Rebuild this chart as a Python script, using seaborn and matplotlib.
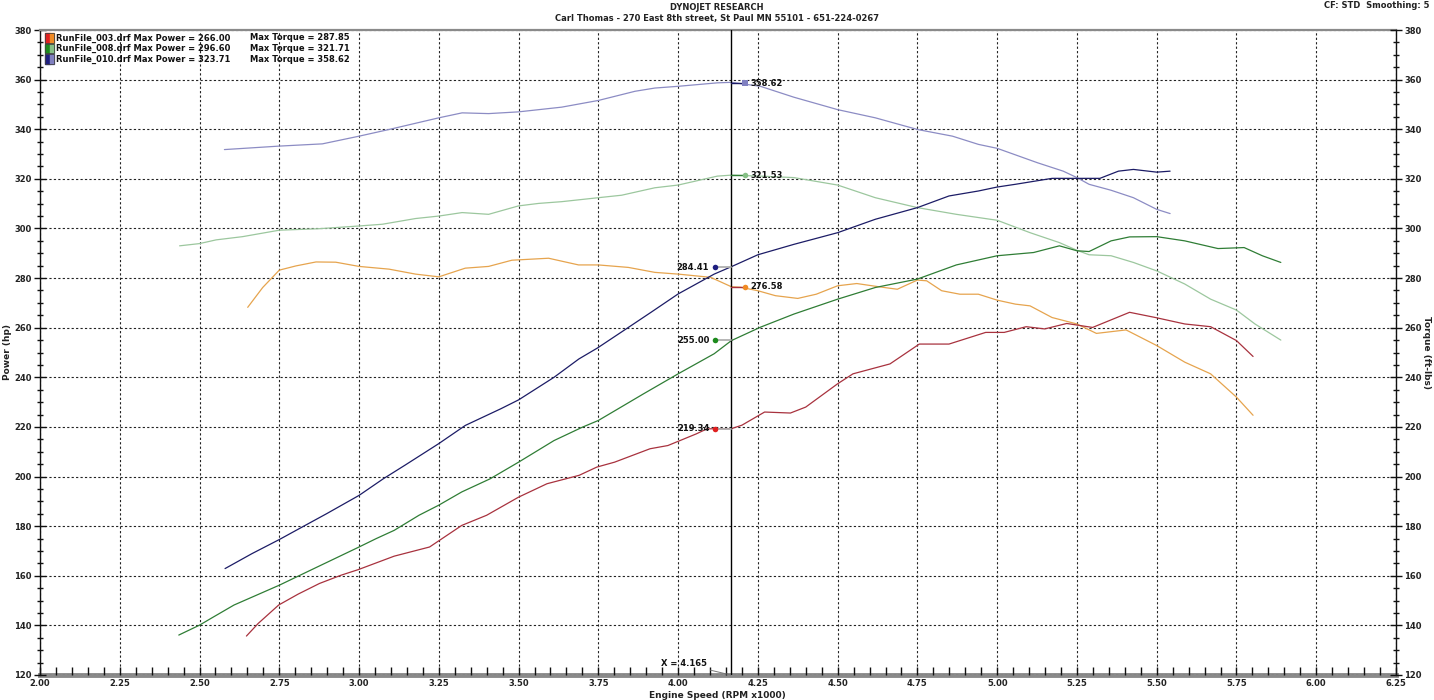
import numpy as np
import matplotlib
matplotlib.use('Agg')
import matplotlib.pyplot as plt
from matplotlib.patches import Rectangle
from matplotlib.ticker import MultipleLocator, FormatStrFormatter
import seaborn as sns

sns.set_theme(style='white')
plt.rcParams['font.family'] = ['DejaVu Sans']
plt.rcParams['font.weight'] = 'bold'

# ---- dados (rpm x1000) ----
run_names = ['RunFile_003.drf', 'RunFile_008.drf', 'RunFile_010.drf']
max_power = [266.00, 296.60, 323.71]
max_torque = [287.85, 321.71, 358.62]

# run 003
rpm_003_hp = [2.647, 2.684, 2.748, 2.809, 2.876, 2.943, 2.998, 3.110, 3.221, 3.322, 3.400,
              3.500, 3.589, 3.690, 3.745, 3.801, 3.912, 3.968, 4.057, 4.090, 4.123, 4.167,
              4.200, 4.271, 4.352, 4.400, 4.500, 4.548, 4.664, 4.756, 4.849, 4.964, 5.022,
              5.091, 5.149, 5.218, 5.299, 5.415, 5.496, 5.588, 5.669, 5.750, 5.802]
hp_003 = [135.7, 140.8, 148.2, 152.6, 156.9, 160.2, 162.5, 167.9, 171.6, 180.3, 184.4,
          191.7, 197.1, 200.5, 203.8, 205.8, 211.2, 212.5, 217.2, 219.2, 219.3, 219.3,
          220.7, 226.0, 225.6, 228.0, 237.4, 241.4, 245.4, 253.4, 253.4, 258.1, 258.1,
          260.4, 259.5, 261.7, 260.1, 266.2, 264.1, 261.5, 260.4, 254.8, 248.4]
rpm_003_tq = [2.651, 2.698, 2.750, 2.802, 2.865, 2.927, 3.000, 3.094, 3.177, 3.250, 3.333,
              3.406, 3.479, 3.594, 3.688, 3.750, 3.844, 3.927, 4.000, 4.102, 4.167, 4.196,
              4.250, 4.305, 4.375, 4.433, 4.500, 4.560, 4.629, 4.687, 4.750, 4.779, 4.826,
              4.883, 4.941, 5.000, 5.057, 5.103, 5.172, 5.250, 5.311, 5.404, 5.500, 5.588,
              5.669, 5.750, 5.802]
tq_003 = [268.2, 276.2, 283.2, 284.9, 286.5, 286.4, 284.7, 283.6, 281.6, 280.5, 284.0,
          284.7, 287.2, 288.0, 285.3, 285.3, 284.3, 282.3, 281.6, 280.3, 276.5, 276.3,
          274.9, 272.9, 271.8, 273.5, 276.9, 277.8, 276.5, 275.5, 279.2, 278.9, 274.9,
          273.5, 273.5, 271.1, 269.5, 268.8, 264.1, 261.5, 257.7, 259.1, 252.8, 246.1,
          241.4, 232.0, 224.7]

# run 008
rpm_008_hp = [2.435, 2.500, 2.541, 2.608, 2.750, 2.831, 3.000, 3.054, 3.110, 3.188, 3.249,
              3.322, 3.411, 3.500, 3.611, 3.700, 3.750, 3.812, 3.891, 4.000, 4.113, 4.167,
              4.258, 4.363, 4.500, 4.618, 4.750, 4.872, 5.000, 5.114, 5.195, 5.250, 5.288,
              5.357, 5.415, 5.500, 5.588, 5.692, 5.774, 5.831, 5.889]
hp_008 = [136.1, 140.1, 143.2, 148.2, 156.2, 161.2, 171.6, 175.0, 178.3, 184.4, 188.4,
          193.8, 199.1, 205.8, 214.5, 219.9, 222.6, 227.3, 233.3, 241.4, 249.5, 254.8,
          260.2, 265.5, 271.5, 276.2, 279.6, 285.3, 289.0, 290.3, 293.0, 291.0, 290.7,
          295.0, 296.6, 296.7, 295.0, 291.9, 292.3, 289.0, 286.3]
rpm_008_tq = [2.4375, 2.500, 2.552, 2.635, 2.750, 2.875, 3.000, 3.073, 3.177, 3.250, 3.323,
              3.406, 3.500, 3.563, 3.635, 3.750, 3.823, 3.927, 4.000, 4.123, 4.167, 4.258,
              4.363, 4.500, 4.618, 4.750, 4.872, 5.000, 5.103, 5.195, 5.250, 5.288, 5.357,
              5.427, 5.500, 5.588, 5.669, 5.750, 5.808, 5.889]
tq_008 = [293.0, 293.9, 295.4, 296.7, 299.3, 299.9, 301.0, 301.7, 304.0, 305.0, 306.4,
          305.7, 309.1, 310.1, 310.8, 312.4, 313.4, 316.4, 317.5, 321.1, 321.5, 321.1,
          320.5, 317.5, 312.4, 308.4, 305.7, 303.3, 298.3, 294.3, 291.2, 289.4, 289.0,
          286.3, 282.9, 277.6, 271.5, 267.1, 261.5, 255.0]

# run 010
rpm_010_hp = [2.580, 2.664, 2.750, 2.831, 2.898, 3.000, 3.076, 3.143, 3.249, 3.333, 3.444,
              3.500, 3.611, 3.689, 3.747, 3.844, 3.915, 4.000, 4.113, 4.167, 4.250, 4.363,
              4.500, 4.618, 4.750, 4.849, 4.941, 5.000, 5.057, 5.172, 5.250, 5.322, 5.380,
              5.427, 5.500, 5.542]
hp_010 = [162.9, 168.9, 174.6, 180.3, 185.0, 192.4, 199.1, 204.5, 213.2, 220.6, 227.3,
          230.9, 240.0, 247.4, 251.8, 260.1, 266.2, 273.6, 281.6, 284.6, 289.4, 293.6,
          298.3, 303.7, 308.4, 313.1, 315.1, 316.7, 317.8, 320.2, 320.2, 320.2, 323.1,
          323.8, 322.7, 323.1]
rpm_010_tq = [2.578, 2.750, 2.885, 3.000, 3.094, 3.250, 3.323, 3.406, 3.500, 3.635, 3.750,
              3.865, 3.927, 4.000, 4.123, 4.167, 4.258, 4.363, 4.500, 4.618, 4.750, 4.860,
              4.941, 5.000, 5.126, 5.207, 5.250, 5.288, 5.357, 5.427, 5.500, 5.542]
tq_010 = [331.8, 333.2, 334.1, 337.2, 339.9, 344.6, 346.6, 346.3, 347.0, 348.9, 351.6,
          355.3, 356.6, 357.3, 358.7, 358.9, 357.3, 352.9, 347.9, 344.6, 339.9, 337.2,
          333.9, 332.3, 326.5, 323.1, 320.5, 317.8, 315.4, 312.4, 307.7, 306.0]

# leitura do cursor
cursor_x = 4.165
cursor_power = [219.34, 255.00, 284.41]
cursor_torque = [276.58, 321.53, 358.62]

# cores (potencia escura, torque clara)
cor_hp = ['#a8323e', '#2f7d35', '#1c1c66']
cor_tq = ['#e6a44e', '#9cc79e', '#8c8cc4']
cor_mk_hp = ['#e02020', '#1c8a1c', '#1e1e80']
cor_mk_tq = ['#f08a24', '#86c086', '#8080c0']

hp_series = [(rpm_003_hp, hp_003), (rpm_008_hp, hp_008), (rpm_010_hp, hp_010)]
tq_series = [(rpm_003_tq, tq_003), (rpm_008_tq, tq_008), (rpm_010_tq, tq_010)]

W, H = 1434, 700
fig = plt.figure(figsize=(W / 100, H / 100), dpi=100)
fig.patch.set_facecolor('white')
ax = fig.add_axes([40 / W, 25 / H, 1356 / W, 645 / H])
ax2 = ax.twinx()

for i in range(3):
    sns.lineplot(x=tq_series[i][0], y=tq_series[i][1], ax=ax, color=cor_tq[i],
                 lw=0.9, estimator=None, sort=False, legend=False)
for i in range(3):
    sns.lineplot(x=hp_series[i][0], y=hp_series[i][1], ax=ax, color=cor_hp[i],
                 lw=0.9, estimator=None, sort=False, legend=False)

# eixos
for a in (ax, ax2):
    a.set_xlim(2.0, 6.25)
    a.set_ylim(120, 380)
    a.yaxis.set_major_locator(MultipleLocator(20))
    a.yaxis.set_minor_locator(MultipleLocator(5))
    a.tick_params(axis='y', which='major', direction='inout', length=8, width=1,
                  color='#111111', labelsize=6, labelcolor='#222222', pad=2)
    a.tick_params(axis='y', which='minor', direction='inout', length=5, width=1,
                  color='#111111')

ax.spines['left'].set_color('#111111')
ax.spines['left'].set_linewidth(1.0)
ax.spines['top'].set_color('#8a8a8a')
ax.spines['top'].set_linewidth(1.6)
ax.spines['bottom'].set_color('#8a8a8a')
ax.spines['bottom'].set_linewidth(3.5)
ax.spines['bottom'].set_zorder(0.1)
ax.spines['right'].set_visible(False)
for s in ('left', 'top', 'bottom'):
    ax2.spines[s].set_visible(False)
ax2.spines['right'].set_color('#111111')
ax2.spines['right'].set_linewidth(1.0)

ax.xaxis.set_major_locator(MultipleLocator(0.25))
ax.xaxis.set_minor_locator(MultipleLocator(0.05))
ax.xaxis.set_major_formatter(FormatStrFormatter('%.2f'))
ax.tick_params(axis='x', which='both', bottom=True, direction='in', length=6, width=1,
               color='#111111', labelsize=6, labelcolor='#222222', pad=3)
ax.set_xlabel('')
ax.set_ylabel('')
ax.grid(True, which='major', color='#222222', linestyle=(0, (2, 2)), lw=0.8)
ax.set_axisbelow(True)

# cursor
ax.axvline(cursor_x, color='black', lw=1.0, zorder=3)
P_OFF, T_OFF = -0.05, 0.045
for i in range(3):
    v = cursor_power[i]
    ax.plot([cursor_x + P_OFF, cursor_x], [v, v], color='#b0b0b0', lw=1.3, zorder=4)
    ax.scatter([cursor_x + P_OFF], [v], s=16, color=cor_mk_hp[i], zorder=5, linewidths=0)
    ax.annotate(f'{v:.2f}', (cursor_x + P_OFF, v), xytext=(-4, 0), textcoords='offset points',
                ha='right', va='center', fontsize=6, color='#111111', zorder=6)
    t = cursor_torque[i]
    ax.plot([cursor_x, cursor_x + T_OFF], [t, t], color=cor_hp[i], lw=1.0, zorder=4)
    ax.scatter([cursor_x + T_OFF], [t], s=16, color=cor_mk_tq[i], zorder=5, linewidths=0,
               marker='s' if i == 2 else 'o')
    ax.annotate(f'{t:.2f}', (cursor_x + T_OFF, t), xytext=(4, 0), textcoords='offset points',
                ha='left', va='center', fontsize=6, color='#111111', zorder=6)

ax.annotate(f'X = {cursor_x:.3f}', xy=(cursor_x, 120), xytext=(-17, 8),
            textcoords='offset points', ha='right', va='center', fontsize=6,
            color='#111111', arrowprops=dict(arrowstyle='-', color='#777777', lw=0.7,
                                             shrinkA=0, shrinkB=0))

# legenda manual
def fx(px):
    return px / W


def fy(py):
    return 1 - py / H


rows_py = [38, 48.5, 59]
for i in range(3):
    py = rows_py[i]
    fig.patches.append(Rectangle((fx(45), fy(py + 4.5)), 4.5 / W, 9 / H,
                                 transform=fig.transFigure, color=cor_mk_hp[i], zorder=10))
    fig.patches.append(Rectangle((fx(49.5), fy(py + 4.5)), 4.5 / W, 9 / H,
                                 transform=fig.transFigure, color=cor_mk_tq[i], zorder=10))
    fig.patches.append(Rectangle((fx(45), fy(py + 4.5)), 9 / W, 9 / H, fill=False,
                                 transform=fig.transFigure, ec='#444444', lw=0.6, zorder=11))
    fig.text(fx(56), fy(py), f'{run_names[i]} Max Power = {max_power[i]:.2f}',
             fontsize=6, va='center', ha='left', color='#111111')
    fig.text(fx(250), fy(py), f'Max Torque = {max_torque[i]:.2f}',
             fontsize=6, va='center', ha='left', color='#111111')

# textos
fig.text(fx(717), fy(7.5), 'DYNOJET RESEARCH', fontsize=6, ha='center', va='center',
         color='#222222')
fig.text(fx(717), fy(19), 'Carl Thomas - 270 East 8th street, St Paul MN 55101 - 651-224-0267',
         fontsize=6, ha='center', va='center', color='#222222')
fig.text(fx(1430), fy(5), 'CF: STD  Smoothing: 5', fontsize=6, ha='right', va='center',
         color='#222222')
fig.text(fx(717), fy(695), 'Engine Speed (RPM x1000)', fontsize=6.5, ha='center',
         va='center', color='#222222')
fig.text(fx(8), fy(352), 'Power (hp)', fontsize=6.5, ha='center', va='center',
         rotation=90, color='#222222')
fig.text(fx(1427), fy(352), 'Torque (ft-lbs)', fontsize=6.5, ha='center', va='center',
         rotation=270, color='#222222')

fig.savefig('out.png', dpi=100, facecolor='white')
